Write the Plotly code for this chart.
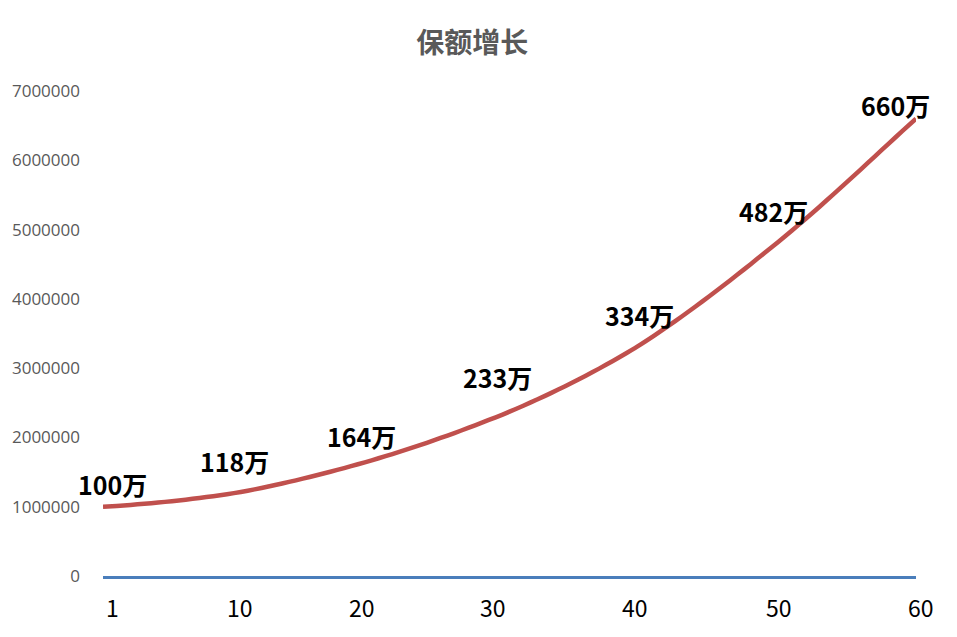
import plotly.graph_objects as go

years = list(range(1, 61))
# 保额 in 万
amount_wan = [100.0, 101.2, 102.6, 104.2, 106.0, 108.0, 110.2, 112.7, 115.2, 118.0,
              121.3, 125.0, 129.1, 133.5, 138.1, 142.9, 147.9, 153.1, 158.5, 164.0,
              169.9, 176.0, 182.3, 188.9, 195.7, 202.7, 210.0, 217.5, 225.2, 233.0,
              241.4, 250.2, 259.3, 268.7, 278.5, 288.7, 299.3, 310.3, 321.9, 334.0,
              347.0, 360.5, 374.5, 388.9, 403.7, 418.8, 434.3, 450.1, 466.1, 482.0,
              498.6, 515.6, 533.0, 550.8, 568.8, 587.0, 605.4, 623.8, 642.0, 660.0]
amounts = [v * 10000 for v in amount_wan]

label_years = [1, 10, 20, 30, 40, 50, 60]
label_texts = ["100万", "118万", "164万", "233万", "334万", "482万", "660万"]
# pixel offsets of hand-placed labels (style, not data)
label_dx = [9, 7, -3, -5, -1, -5, -21]
label_dy = [23, 33, 26, 38, 30, 31, 14]

x_tick_vals = [1, 10, 20, 30, 40, 50, 60]
x_tick_text = ["1", "10", "20", "30", "40", "50", "60"]
x_tick_dx = [9, 13, -3, -10, -5, 1, 5]  # placement offsets of the category labels
y_tick_vals = [0, 1000000, 2000000, 3000000, 4000000, 5000000, 6000000, 7000000]

fig = go.Figure()
fig.add_trace(go.Scatter(x=years, y=amounts, mode="lines",
                         line=dict(color="#C0504D", width=4.5, shape="spline", smoothing=0.6),
                         showlegend=False, hoverinfo="x+y"))

for yr, txt, dx, dy in zip(label_years, label_texts, label_dx, label_dy):
    fig.add_annotation(x=yr, y=amounts[years.index(yr)], xref="x", yref="y",
                       text="<b>" + txt + "</b>", showarrow=False,
                       xshift=dx, yshift=dy,
                       font=dict(family="Noto Sans CJK SC", size=25, color="#000000"))

for xv, txt, dx in zip(x_tick_vals, x_tick_text, x_tick_dx):
    fig.add_annotation(x=xv, y=0, xref="x", yref="y", text=txt, showarrow=False,
                       xshift=dx, yshift=-31,
                       font=dict(family="Noto Sans CJK SC", size=23, color="#000000"))

fig.update_layout(
    width=957, height=637,
    margin=dict(l=95, r=49, t=83, b=69),
    paper_bgcolor="white", plot_bgcolor="white",
    title=dict(text="<b>保额增长</b>", x=0.485, xanchor="center", y=0.945, yanchor="middle",
               font=dict(family="Noto Sans CJK SC", size=28, color="#595959")),
    xaxis=dict(range=[1, 60], tickvals=x_tick_vals, showticklabels=False,
               showgrid=False, zeroline=False, showline=True, automargin=False,
               linecolor="#4A7EBB", linewidth=3, ticks=""),
    yaxis=dict(range=[0, 7000000], tickvals=y_tick_vals, showgrid=False,
               zeroline=False, showline=False, ticks="", ticklabelstandoff=22,
               tickformat="d", automargin=False,
               tickfont=dict(family="Open Sans", size=17, color="#595959")),
)

fig.write_html("out.html")
